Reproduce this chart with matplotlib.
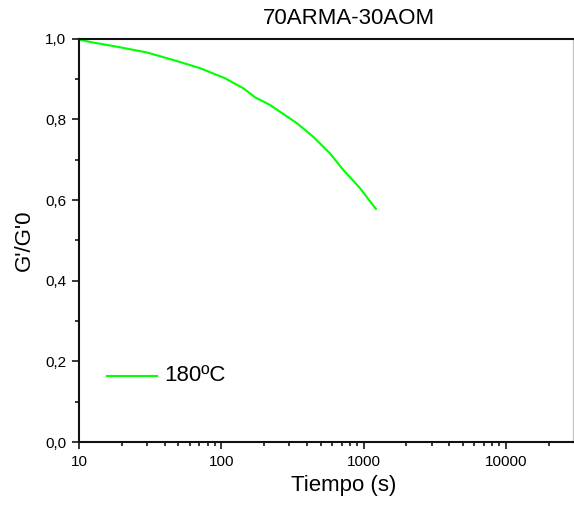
import numpy as np
import matplotlib
matplotlib.use("Agg")
from matplotlib import pyplot as plt
from matplotlib.ticker import LogLocator, FixedLocator, FixedFormatter, MultipleLocator, NullFormatter

plt.rcParams['font.family'] = ['Liberation Sans', 'DejaVu Sans']

# curve: time (s) and G'/G'0
tiempo = [10.0, 12.3, 16.1, 19.9, 29.9, 47.2, 70.8, 106, 143, 172, 219,
          258, 338, 442, 579, 718, 940, 1219]
ratio = [0.998, 0.991, 0.984, 0.978, 0.966, 0.946, 0.927, 0.902, 0.877, 0.855, 0.836,
         0.819, 0.791, 0.757, 0.716, 0.675, 0.630, 0.578]

x_ticks = [10, 100, 1000, 10000]
x_labels = ['10', '100', '1000', '10000']
y_ticks = [0.0, 0.2, 0.4, 0.6, 0.8, 1.0]
y_labels = ['0,0', '0,2', '0,4', '0,6', '0,8', '1,0']

fig = plt.figure(figsize=(5.74, 5.05), dpi=100)
ax = fig.add_axes([79/574, 1-442/505, (573-79)/574, (442-38.7)/505])

ax.plot(tiempo, ratio, color='#00ff00', lw=1.5)

ax.set_xscale('log')
ax.set_xlim(10, 29600)
ax.set_ylim(0, 1.0)

ax.xaxis.set_major_locator(FixedLocator(x_ticks))
ax.xaxis.set_major_formatter(FixedFormatter(x_labels))
ax.xaxis.set_minor_locator(LogLocator(base=10, subs=np.arange(2, 10)))
ax.xaxis.set_minor_formatter(NullFormatter())
ax.yaxis.set_major_locator(FixedLocator(y_ticks))
ax.yaxis.set_major_formatter(FixedFormatter(y_labels))
ax.yaxis.set_minor_locator(MultipleLocator(0.1))

ax.tick_params(which='major', direction='out', length=5, width=1.1, labelsize=11,
               top=False, right=False, pad=4)
ax.tick_params(which='minor', direction='out', length=2.8, width=1.1, top=False, right=False)

for s in ['left', 'bottom', 'top']:
    ax.spines[s].set_linewidth(1.5)
    ax.spines[s].set_color('#111111')
ax.spines['right'].set_color('#c8c8c8')
ax.spines['right'].set_linewidth(1.0)

# legend drawn as a line and a label, like the original
fig.add_artist(plt.Line2D([107/574, 157/574], [1-375.5/505, 1-375.5/505],
                          color='#00ff00', lw=1.5))
fig.text(164/574, 1-375.5/505, '180ºC', fontsize=16, va='center', ha='left')

fig.text(349/574, 1-18/505, '70ARMA-30AOM', fontsize=16, ha='center', va='center')
fig.text(344/574, 1-485/505, 'Tiempo (s)', fontsize=16, ha='center', va='center')
fig.text(24/574, 1-240/505, "G'/G'0", fontsize=16, ha='center', va='center', rotation=90)

fig.savefig('out.png', dpi=100)
